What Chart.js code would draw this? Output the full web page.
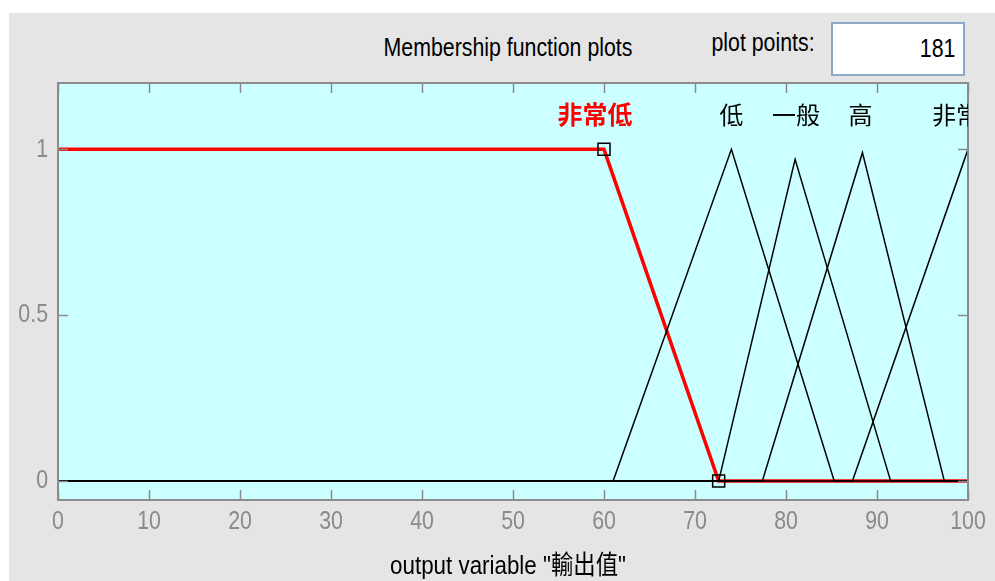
<!DOCTYPE html>
<html>
<head>
<meta charset="utf-8">
<script src="https://cdn.jsdelivr.net/npm/chart.js@4.4.1/dist/chart.umd.min.js"></script>
<style>
  html, body { margin: 0; padding: 0; background: #ffffff; }
  #wrap { position: relative; width: 995px; height: 581px; overflow: hidden; }
  #panel { position: absolute; left: 9px; top: 13px; width: 986px; height: 568px; background: #e5e5e5; }
  #chart { position: absolute; left: 0; top: 0; }
  .ui { position: absolute; font-family: "Liberation Sans", Arial, sans-serif; font-size: 26px; color: #000; white-space: nowrap; line-height: 1; }
  #title { left: 508px; top: 47px; transform: translate(-50%, -50%) scaleX(0.82); }
  #ppLabel { left: 763px; top: 42px; transform: translate(-50%, -50%) scaleX(0.82); }
  #ppBox { position: absolute; left: 831px; top: 22px; width: 130px; height: 50px; background: #fff; border: 2px solid #8fa8c8; box-sizing: content-box; }
  #ppVal { right: 40px; top: 48px; transform: translateY(-50%) scaleX(0.82); transform-origin: right center; }
</style>
</head>
<body>
<div id="wrap">
  <div id="panel"></div>
  <div id="title" class="ui">Membership function plots</div>
  <div id="ppLabel" class="ui">plot points:</div>
  <div id="ppBox"></div>
  <div id="ppVal" class="ui">181</div>
  <canvas id="chart" width="995" height="581"></canvas>
</div>
<script>
// Output variable "輸出值": five membership functions on [0, 100]
const xTicks = [0, 10, 20, 30, 40, 50, 60, 70, 80, 90, 100];
const yTicks = [0, 0.5, 1];
const xTitle = 'output variable "輸出值"';

const mfNames = ['非常低', '低', '一般', '高', '非常高'];

// Breakpoints of each membership function (x) and their grades (y)
const veryLowX  = [0, 60, 72.6, 100];
const veryLowY  = [1, 1, 0, 0];
const lowX      = [0, 61, 74, 85.3, 100];
const lowY      = [0, 0, 1, 0, 0];
const mediumX   = [0, 72.6, 81, 91.5, 100];
const mediumY   = [0, 0, 0.97, 0, 0];
const highX     = [0, 77.4, 88.4, 97.4, 100];
const highY     = [0, 0, 0.99, 0, 0];
const veryHighX = [0, 87.3, 100];
const veryHighY = [0, 0, 1];

// Where each name is written above its curve
const labelX = [59, 74, 81.1, 88.2, 100];
const labelY = 1.105;

// Square handles on the selected function (非常低)
const handleX = [60, 72.6];
const handleY = [1, 0];

const pts = (xs, ys) => xs.map((x, i) => ({ x: x, y: ys[i] }));

const SANS = '"Liberation Sans", Arial, "Noto Sans CJK TC", sans-serif';
const CJK = '"Noto Sans CJK TC", "Noto Sans CJK SC", sans-serif';
const SQUEEZE = 0.82;   // condensed look of the axis lettering

function blackLine(xs, ys) {
  return { data: pts(xs, ys), showLine: true, borderColor: '#000', borderWidth: 1.5, pointRadius: 0, order: 1 };
}

function narrowText(ctx, text, x, y, align, font, color, sx) {
  ctx.save();
  ctx.translate(x, y);
  ctx.scale(sx, 1);
  ctx.font = font;
  ctx.fillStyle = color;
  ctx.textAlign = align;
  ctx.textBaseline = 'middle';
  ctx.fillText(text, 0, 0);
  ctx.restore();
}

const axesFrame = {
  id: 'axesFrame',
  beforeDatasetsDraw(chart) {
    const { ctx, chartArea: a } = chart;
    ctx.save();
    ctx.fillStyle = 'rgb(204,255,255)';
    ctx.fillRect(a.left, a.top, a.right - a.left, a.bottom - a.top);
    ctx.restore();
  },
  afterDatasetsDraw(chart) {
    const { ctx, chartArea: a, scales } = chart;
    const tl = 10;
    ctx.save();
    // inward tick marks on all four sides
    ctx.strokeStyle = '#8a8a8a';
    ctx.lineWidth = 1.5;
    ctx.beginPath();
    scales.x.ticks.forEach(t => {
      const px = Math.round(scales.x.getPixelForValue(t.value)) + 0.5;
      ctx.moveTo(px, a.bottom); ctx.lineTo(px, a.bottom - tl);
      ctx.moveTo(px, a.top); ctx.lineTo(px, a.top + tl);
    });
    scales.y.ticks.forEach(t => {
      const py = Math.round(scales.y.getPixelForValue(t.value)) + 0.5;
      ctx.moveTo(a.left, py); ctx.lineTo(a.left + tl, py);
      ctx.moveTo(a.right, py); ctx.lineTo(a.right - tl, py);
    });
    ctx.stroke();
    // frame
    ctx.strokeStyle = '#8c8c8c';
    ctx.lineWidth = 2;
    ctx.strokeRect(a.left, a.top, a.right - a.left, a.bottom - a.top);

    // tick labels and axis title
    const tickFont = '26px ' + SANS;
    scales.x.ticks.forEach(t => {
      narrowText(ctx, String(t.value), scales.x.getPixelForValue(t.value), a.bottom + 22,
                 'center', tickFont, '#8a8a8a', SQUEEZE);
    });
    scales.y.ticks.forEach(t => {
      narrowText(ctx, String(t.value), a.left - 10, scales.y.getPixelForValue(t.value),
                 'right', tickFont, '#8a8a8a', SQUEEZE);
    });
    narrowText(ctx, xTitle, (a.left + a.right) / 2 - 5, a.bottom + 67,
               'center', '26px ' + SANS, '#000', 0.86);

    // function names, clipped to the plot box
    ctx.beginPath();
    ctx.rect(a.left, a.top, a.right - a.left, a.bottom - a.top);
    ctx.clip();
    ctx.textAlign = 'center';
    ctx.textBaseline = 'middle';
    mfNames.forEach((name, i) => {
      const px = scales.x.getPixelForValue(labelX[i]);
      const py = scales.y.getPixelForValue(labelY);
      if (i === 0) {
        ctx.fillStyle = '#ff0000';
        ctx.font = 'bold 25px ' + CJK;
      } else {
        ctx.fillStyle = '#000000';
        ctx.font = '24px ' + CJK;
      }
      ctx.fillText(name, px, py);
    });
    ctx.restore();
  }
};

new Chart(document.getElementById('chart'), {
  type: 'scatter',
  data: {
    datasets: [
      { data: pts(handleX, handleY), showLine: false, pointStyle: 'rect', pointRadius: 8.5,
        pointBorderColor: '#000', pointBackgroundColor: 'rgba(0,0,0,0)', pointBorderWidth: 1.5, order: 0 },
      blackLine(lowX, lowY),
      blackLine(mediumX, mediumY),
      blackLine(highX, highY),
      blackLine(veryHighX, veryHighY),
      { data: pts(veryLowX, veryLowY), showLine: true, borderColor: '#ff0000', borderWidth: 3.5, pointRadius: 0, order: 2 }
    ]
  },
  options: {
    responsive: false,
    animation: false,
    events: [],
    clip: { left: 0, right: 0, top: 0, bottom: 0 },
    layout: { padding: { left: 8, right: 27, top: 83, bottom: 0 } },
    plugins: { legend: { display: false }, tooltip: { enabled: false } },
    scales: {
      x: {
        type: 'linear', min: 0, max: 100,
        afterBuildTicks: s => { s.ticks = xTicks.map(v => ({ value: v })); },
        afterFit: s => { s.height = 81; },
        grid: { display: false, drawTicks: false },
        border: { display: false },
        ticks: { display: false }
      },
      y: {
        type: 'linear', min: -0.057, max: 1.2,
        afterBuildTicks: s => { s.ticks = yTicks.map(v => ({ value: v })); },
        afterFit: s => { s.width = 50; },
        grid: { display: false, drawTicks: false },
        border: { display: false },
        ticks: { display: false }
      }
    }
  },
  plugins: [axesFrame]
});
</script>
</body>
</html>
